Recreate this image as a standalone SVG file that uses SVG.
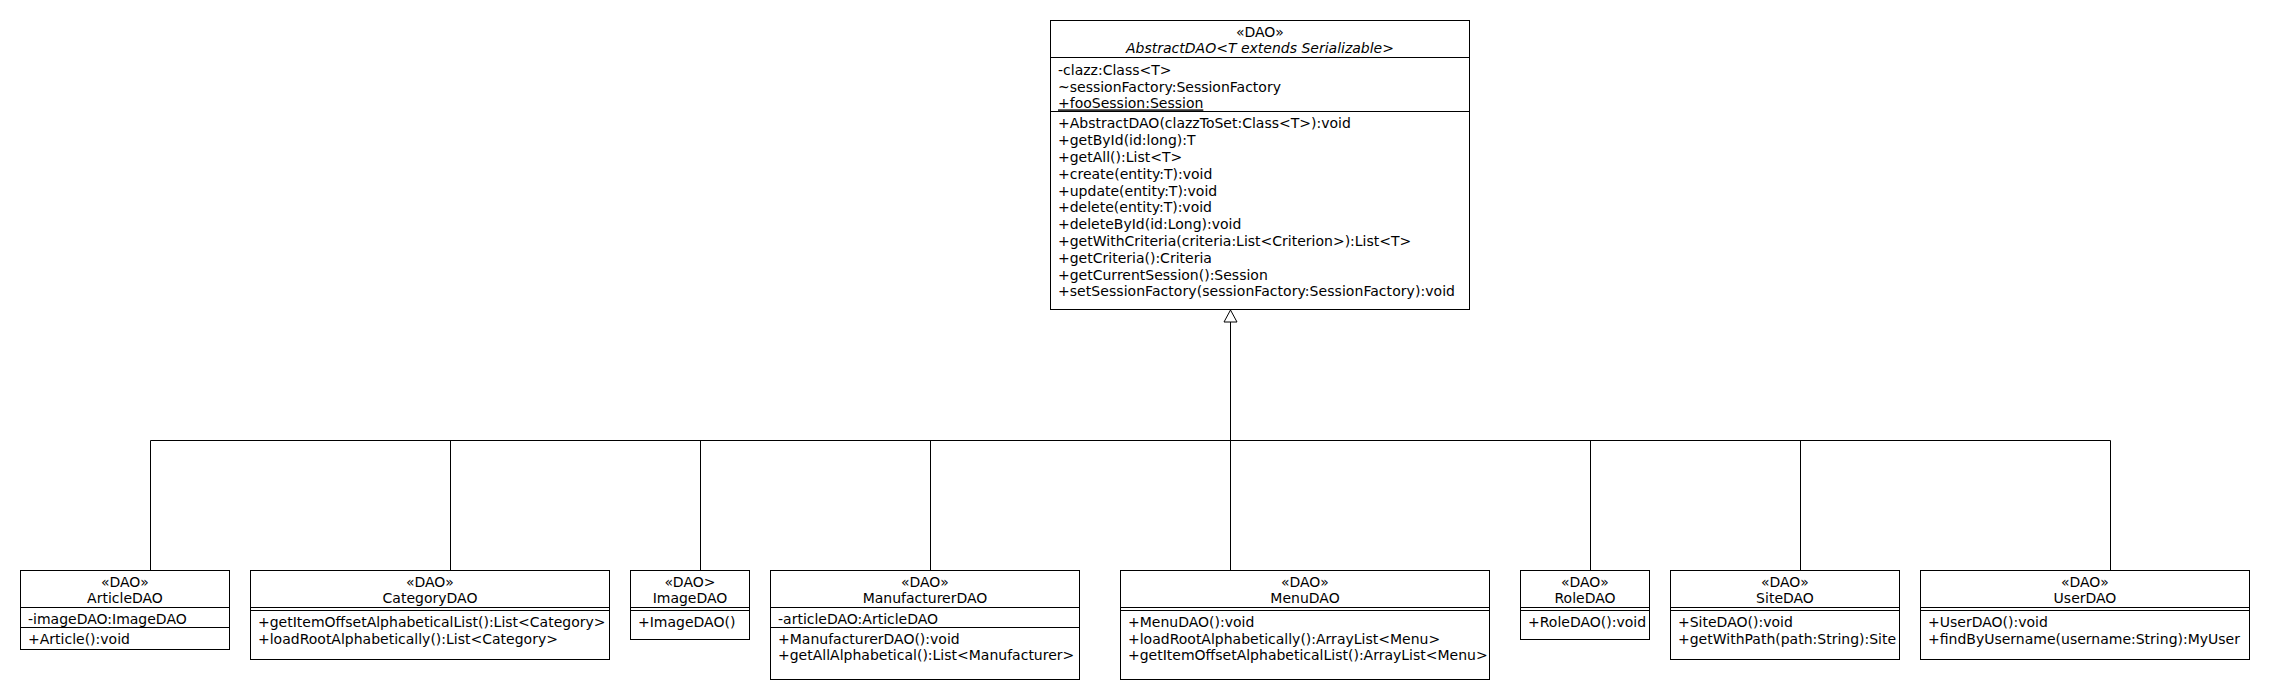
<svg xmlns="http://www.w3.org/2000/svg" width="2270" height="700" viewBox="0 0 2270 700">
<style>
text{font-family:"DejaVu Sans","Liberation Sans",sans-serif;font-size:14px;fill:#000}
.c{text-anchor:middle}
.i{font-style:italic}
.u{text-decoration:underline}
.box{fill:#fff;stroke:#000;stroke-width:1}
.ln{stroke:#000;stroke-width:1;fill:none}
</style>
<rect width="2270" height="700" fill="#fff"/>
<g id="connectors">
<path class="ln" d="M1230.5 322 V440.5 M150.5 440.5 H2110.5 M150.5 440.5 V570.5 M450.5 440.5 V570.5 M700.5 440.5 V570.5 M930.5 440.5 V570.5 M1230.5 440.5 V570.5 M1590.5 440.5 V570.5 M1800.5 440.5 V570.5 M2110.5 440.5 V570.5"/>
<polygon class="box" points="1230.5,310 1224,322 1237,322"/>
</g>
<g id="AbstractDAO">
<rect class="box" x="1050.5" y="20.5" width="419" height="289"/>
<path class="ln" d="M1050.5 57.5 H1469.5 M1050.5 111.5 H1469.5"/>
<text class="c" x="1260" y="36.5">«DAO»</text>
<text class="c i" x="1260" y="53">AbstractDAO&lt;T extends Serializable&gt;</text>
<text x="1058" y="75">-clazz:Class&lt;T&gt;</text>
<text x="1058" y="91.7">~sessionFactory:SessionFactory</text>
<text class="u" x="1058" y="108.4">+fooSession:Session</text>
<text x="1058" y="128.3">+AbstractDAO(clazzToSet:Class&lt;T&gt;):void</text>
<text x="1058" y="145.1">+getById(id:long):T</text>
<text x="1058" y="161.9">+getAll():List&lt;T&gt;</text>
<text x="1058" y="178.7">+create(entity:T):void</text>
<text x="1058" y="195.5">+update(entity:T):void</text>
<text x="1058" y="212.3">+delete(entity:T):void</text>
<text x="1058" y="229.1">+deleteById(id:Long):void</text>
<text x="1058" y="245.9">+getWithCriteria(criteria:List&lt;Criterion&gt;):List&lt;T&gt;</text>
<text x="1058" y="262.7">+getCriteria():Criteria</text>
<text x="1058" y="279.5">+getCurrentSession():Session</text>
<text x="1058" y="296.3" textLength="397" lengthAdjust="spacing">+setSessionFactory(sessionFactory:SessionFactory):void</text>
</g>
<g id="ArticleDAO">
<rect class="box" x="20.5" y="570.5" width="209" height="79"/>
<path class="ln" d="M20.5 607.5 H229.5 M20.5 627.5 H229.5"/>
<text class="c" x="125" y="586.7">«DAO»</text>
<text class="c" x="125" y="603.3">ArticleDAO</text>
<text x="28" y="624">-imageDAO:ImageDAO</text>
<text x="28" y="644">+Article():void</text>
</g>
<g id="CategoryDAO">
<rect class="box" x="250.5" y="570.5" width="359" height="89"/>
<path class="ln" d="M250.5 607.5 H609.5 M250.5 610.5 H609.5"/>
<text class="c" x="430" y="586.7">«DAO»</text>
<text class="c" x="430" y="603.3">CategoryDAO</text>
<text x="258" y="626.7">+getItemOffsetAlphabeticalList():List&lt;Category&gt;</text>
<text x="258" y="643.5">+loadRootAlphabetically():List&lt;Category&gt;</text>
</g>
<g id="ImageDAO">
<rect class="box" x="630.5" y="570.5" width="119" height="69"/>
<path class="ln" d="M630.5 607.5 H749.5 M630.5 610.5 H749.5"/>
<text class="c" x="690" y="586.7">«DAO&gt;</text>
<text class="c" x="690" y="603.3">ImageDAO</text>
<text x="638" y="626.7">+ImageDAO()</text>
</g>
<g id="ManufacturerDAO">
<rect class="box" x="770.5" y="570.5" width="309" height="109"/>
<path class="ln" d="M770.5 607.5 H1079.5 M770.5 627.5 H1079.5"/>
<text class="c" x="925" y="586.7">«DAO»</text>
<text class="c" x="925" y="603.3">ManufacturerDAO</text>
<text x="778" y="624">-articleDAO:ArticleDAO</text>
<text x="778" y="643.5">+ManufacturerDAO():void</text>
<text x="778" y="660.3">+getAllAlphabetical():List&lt;Manufacturer&gt;</text>
</g>
<g id="MenuDAO">
<rect class="box" x="1120.5" y="570.5" width="369" height="109"/>
<path class="ln" d="M1120.5 607.5 H1489.5 M1120.5 610.5 H1489.5"/>
<text class="c" x="1305" y="586.7">«DAO»</text>
<text class="c" x="1305" y="603.3">MenuDAO</text>
<text x="1128" y="626.7">+MenuDAO():void</text>
<text x="1128" y="643.5">+loadRootAlphabetically():ArrayList&lt;Menu&gt;</text>
<text x="1128" y="660.3">+getItemOffsetAlphabeticalList():ArrayList&lt;Menu&gt;</text>
</g>
<g id="RoleDAO">
<rect class="box" x="1520.5" y="570.5" width="129" height="69"/>
<path class="ln" d="M1520.5 607.5 H1649.5 M1520.5 610.5 H1649.5"/>
<text class="c" x="1585" y="586.7">«DAO»</text>
<text class="c" x="1585" y="603.3">RoleDAO</text>
<text x="1528" y="626.7">+RoleDAO():void</text>
</g>
<g id="SiteDAO">
<rect class="box" x="1670.5" y="570.5" width="229" height="89"/>
<path class="ln" d="M1670.5 607.5 H1899.5 M1670.5 610.5 H1899.5"/>
<text class="c" x="1785" y="586.7">«DAO»</text>
<text class="c" x="1785" y="603.3">SiteDAO</text>
<text x="1678" y="626.7">+SiteDAO():void</text>
<text x="1678" y="643.5">+getWithPath(path:String):Site</text>
</g>
<g id="UserDAO">
<rect class="box" x="1920.5" y="570.5" width="329" height="89"/>
<path class="ln" d="M1920.5 607.5 H2249.5 M1920.5 610.5 H2249.5"/>
<text class="c" x="2085" y="586.7">«DAO»</text>
<text class="c" x="2085" y="603.3">UserDAO</text>
<text x="1928" y="626.7">+UserDAO():void</text>
<text x="1928" y="643.5">+findByUsername(username:String):MyUser</text>
</g>
</svg>
